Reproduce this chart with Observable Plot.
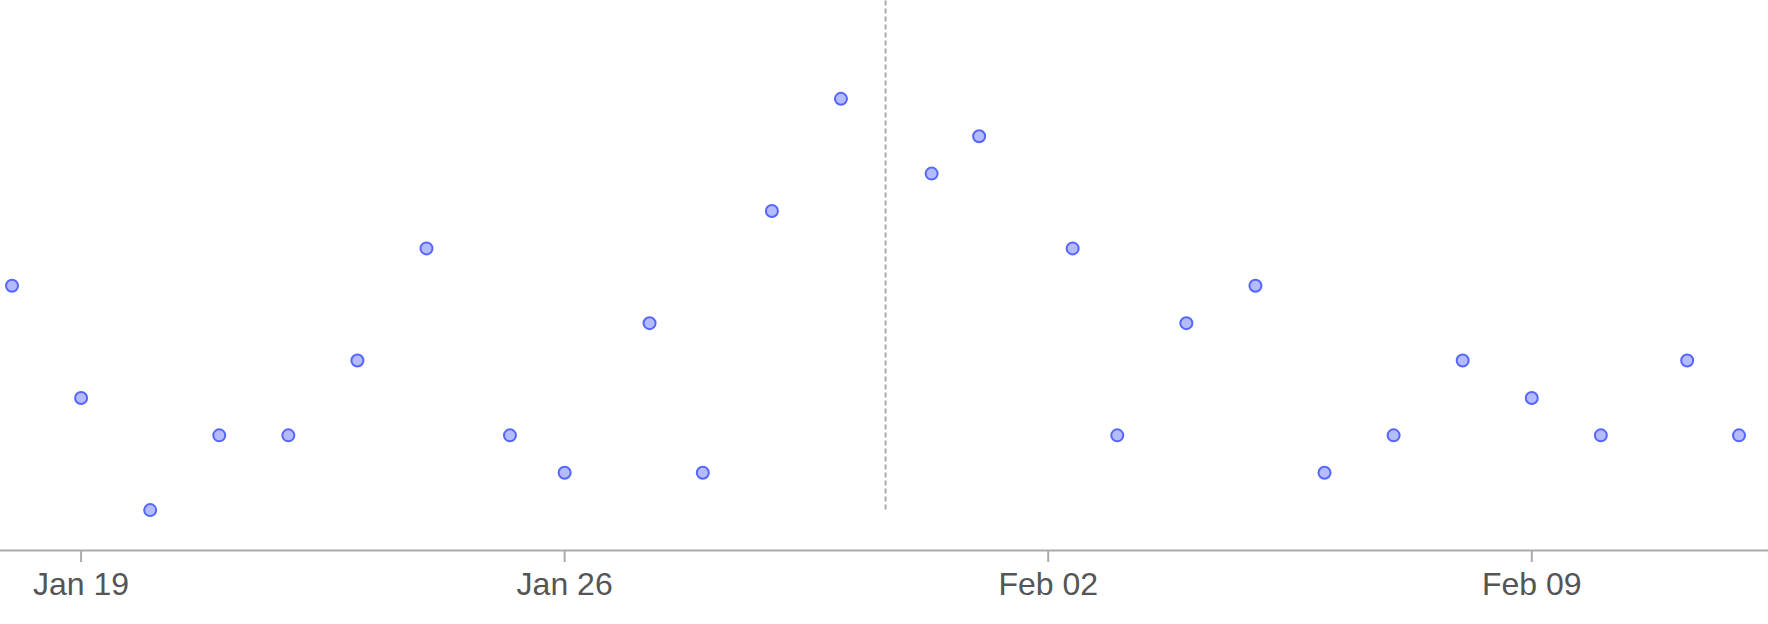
<!DOCTYPE html>
<html>
<head>
<meta charset="utf-8">
<script src="https://cdn.jsdelivr.net/npm/d3@7"></script>
<script src="https://cdn.jsdelivr.net/npm/@observablehq/plot@0.6"></script>
<style>
  html, body { margin: 0; padding: 0; background: #fff; }
  #chart svg { display: block; }
</style>
</head>
<body>
<div id="chart"></div>
<script>
// Observation timestamps (UTC) and their values
const dates = [
  "2025-01-18T00:00Z", "2025-01-19T00:00Z", "2025-01-20T00:00Z", "2025-01-21T00:00Z",
  "2025-01-22T00:00Z", "2025-01-23T00:00Z", "2025-01-24T00:00Z", "2025-01-25T05:00Z",
  "2025-01-26T00:00Z", "2025-01-27T05:30Z", "2025-01-28T00:00Z", "2025-01-29T00:00Z",
  "2025-01-30T00:00Z", "2025-01-31T07:30Z", "2025-02-01T00:00Z", "2025-02-02T08:30Z",
  "2025-02-03T00:00Z", "2025-02-04T00:00Z", "2025-02-05T00:00Z", "2025-02-06T00:00Z",
  "2025-02-07T00:00Z", "2025-02-08T00:00Z", "2025-02-09T00:00Z", "2025-02-10T00:00Z",
  "2025-02-11T06:00Z", "2025-02-12T00:00Z"
];
const values = [7, 4, 1, 3, 3, 5, 8, 3, 2, 6, 2, 9, 12, 10, 11, 8, 3, 6, 7, 2, 3, 5, 4, 3, 5, 3];

// Marker date (dashed vertical rule)
const markerDate = ["2025-01-30T15:30Z"];

// Axis tick dates
const tickDates = ["2025-01-19", "2025-01-26", "2025-02-02", "2025-02-09"];

// Domains
const xDomain = ["2025-01-17T20:00Z", "2025-02-12T10:15Z"];
const yDomain = [-0.08, 14.63];

const data = dates.map((d, i) => ({date: new Date(d), value: values[i]}));
const ticks = tickDates.map(d => new Date(d + "T00:00Z"));
const marker = markerDate.map(d => ({date: new Date(d)}));

const chart = Plot.plot({
  width: 1768,
  height: 624,
  marginTop: 0,
  marginBottom: 74,
  marginLeft: 0,
  marginRight: 0,
  style: {fontFamily: "'Liberation Sans', Arial, sans-serif", fontSize: "32px", color: "#555", background: "#fff"},
  x: {type: "utc", domain: xDomain.map(d => new Date(d))},
  y: {domain: yDomain, axis: null},
  marks: [
    Plot.ruleX(marker, {x: "date", y1: 1, y2: yDomain[1], stroke: "#aaa", strokeWidth: 2, strokeDasharray: "5,3"}),
    Plot.frame({anchor: "bottom", stroke: "#aaa", strokeWidth: 2}),
    Plot.axisX({
      ticks: ticks,
      tickFormat: d3.utcFormat("%b %d"),
      tickSize: 12,
      tickPadding: 10,
      stroke: "#aaa",
      strokeWidth: 2,
      strokeOpacity: 1,
      fill: "#555",
      fontSize: 32
    }),
    Plot.dot(data, {x: "date", y: "value", r: 6, fill: "#b4bbff", stroke: "#5566ff", strokeWidth: 2})
  ]
});
document.getElementById("chart").append(chart);
</script>
</body>
</html>
